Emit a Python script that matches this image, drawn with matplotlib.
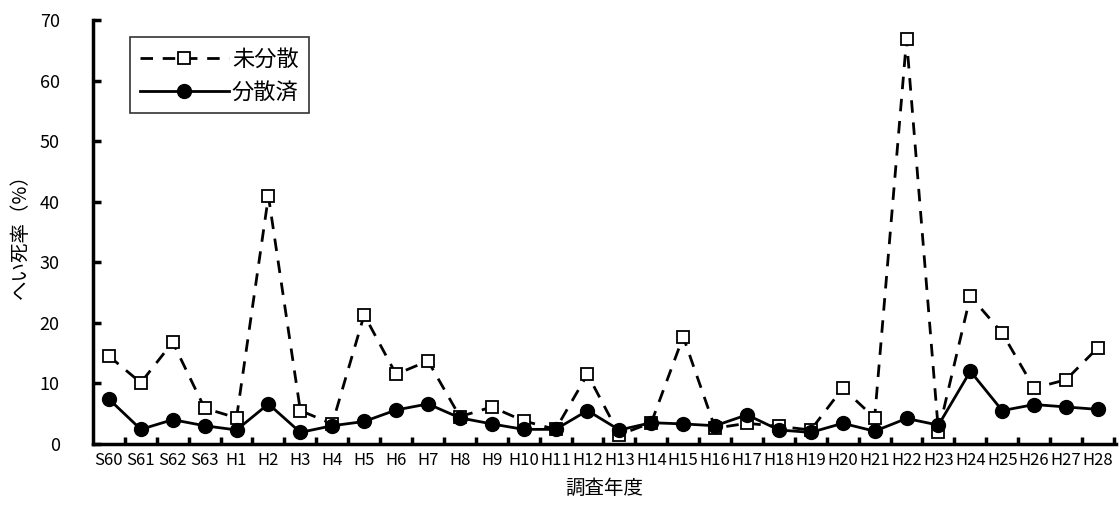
import numpy as np
import matplotlib.pyplot as plt

plt.rcParams['font.family'] = ['Noto Sans CJK JP', 'DejaVu Sans']

years = ["S60", "S61", "S62", "S63", "H1", "H2", "H3", "H4", "H5", "H6", "H7",
         "H8", "H9", "H10", "H11", "H12", "H13", "H14", "H15", "H16", "H17",
         "H18", "H19", "H20", "H21", "H22", "H23", "H24", "H25", "H26", "H27",
         "H28"]
undispersed = [14.5, 10.1, 16.8, 5.9, 4.3, 40.9, 5.5, 3.3, 21.3, 11.5, 13.7,
               4.5, 6.1, 3.8, 2.4, 11.5, 1.5, 3.5, 17.7, 2.6, 3.4,
               2.9, 2.3, 9.2, 4.3, 66.8, 2.0, 24.4, 18.3, 9.2, 10.6,
               15.9]
dispersed = [7.4, 2.4, 4.0, 3.0, 2.3, 6.6, 1.9, 3.0, 3.7, 5.6, 6.6,
             4.3, 3.3, 2.4, 2.4, 5.5, 2.3, 3.5, 3.3, 3.0, 4.8,
             2.3, 1.9, 3.4, 2.1, 4.2, 3.1, 12.0, 5.5, 6.5, 6.1,
             5.7]

x = np.arange(len(years))

fig = plt.figure(figsize=(11.2, 5.12), dpi=100)
ax = fig.add_axes([0.083, 0.133, 0.913, 0.828])

ax.plot(x, undispersed, color="black", lw=2, dashes=(4.5, 3.5),
        marker="s", ms=9, mfc="white", mec="black", mew=1.3, label="未分散")
ax.plot(x, dispersed, color="black", lw=2,
        marker="o", ms=10, mfc="black", mec="black", label="分散済")

ax.set_xlim(-0.5, 31.55)
ax.set_ylim(0, 70)
ax.set_yticks(np.arange(0, 71, 10))
ax.set_xticks(x)
ax.set_xticklabels(years)
ax.set_xticks(np.arange(0.5, 32, 1), minor=True)
ax.tick_params(axis="x", which="major", length=0, labelsize=12, pad=6)
ax.tick_params(axis="x", which="minor", direction="in", length=5, width=2.5)
ax.tick_params(axis="y", direction="in", length=6, width=2.5, labelsize=13,
               pad=24)
for s in ["top", "right"]:
    ax.spines[s].set_visible(False)
for s in ["left", "bottom"]:
    ax.spines[s].set_linewidth(2.5)

ax.set_ylabel("へい死率（%）", fontsize=14, labelpad=6)
ax.set_xlabel("調査年度", fontsize=14, labelpad=6)

leg = ax.legend(loc="upper left", bbox_to_anchor=(0.025, 0.985), fontsize=16,
                frameon=True, fancybox=False, handlelength=4.0,
                borderpad=0.45, labelspacing=0.45, handletextpad=0.15)
leg.get_frame().set_edgecolor("black")
leg.get_frame().set_linewidth(1.2)

fig.savefig("out.png", dpi=100)
